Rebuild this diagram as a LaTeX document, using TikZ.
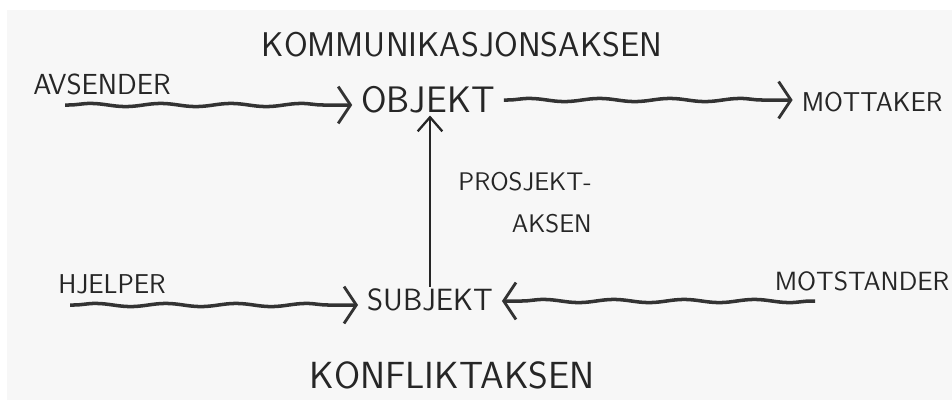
\documentclass[tikz,border=0pt]{standalone}
\usepackage{tikz}
\usetikzlibrary{arrows.meta, decorations.pathmorphing, positioning}

\tikzset{
  akse/.style={font=\sffamily\fontsize{19.5}{22}\selectfont, text=black!85},
  rolle/.style={font=\sffamily\fontsize{15.5}{17}\selectfont, text=black!85, inner ysep=1pt, inner xsep=5pt},
  bolge/.style={black!80, line width=2pt, decorate,
    decoration={snake, amplitude=0.9pt, segment length=40pt, pre length=2pt, post length=9pt},
    -{Straight Barb[length=7pt, width=21pt, line width=1.6pt]}},
}

\begin{document}
\begin{tikzpicture}[x=0.02cm, y=-0.02cm]
            \useasboundingbox (0,0) rectangle (952,400);
            \fill[black!3] (7,10) rectangle (952,400);
            % aksene
            \node[akse] (kom) at (462,45) {KOMMUNIKASJONSAKSEN};
            \node[akse, font=\sffamily\fontsize{21.5}{24}\selectfont] (konf) at (452,375) {KONFLIKTAKSEN};
            \node[rolle, align=right, font=\sffamily\fontsize{14.5}{24}\selectfont] (prosj) at (525,203) {PROSJEKT-\\AKSEN\ };
            % rollene
            \node[rolle, font=\sffamily\fontsize{16.5}{18}\selectfont] (avsender) at (102,84) {AVSENDER};
            \node[rolle, font=\sffamily\fontsize{21}{22}\selectfont] (objekt) at (428,100) {OBJEKT};
            \node[rolle] (mottaker) at (872,102) {MOTTAKER};
            \node[rolle] (hjelper) at (112,284) {HJELPER};
            \node[rolle, font=\sffamily\fontsize{17.5}{19}\selectfont] (subjekt) at (430,300) {SUBJEKT};
            \node[rolle, font=\sffamily\fontsize{15}{17}\selectfont] (motstander) at (862,281) {MOTSTANDER};
            \coordinate (a0) at (65,105);
            \coordinate (h0) at (70,305);
            \coordinate (m0) at (815,301);
            % piler
            \draw[bolge] (a0) -- (a0 -| objekt.west);
            \draw[bolge] (objekt.east) -- (objekt.east -| mottaker.west);
            \draw[bolge] (h0) -- (h0 -| subjekt.west);
            \draw[bolge] (m0) -- (m0 -| subjekt.east);
            \draw[black!85, line width=1.3pt, -{Straight Barb[length=8pt, width=14pt]}] (subjekt.north) -- (subjekt.north |- objekt.south);
        \end{tikzpicture}
\end{document}
